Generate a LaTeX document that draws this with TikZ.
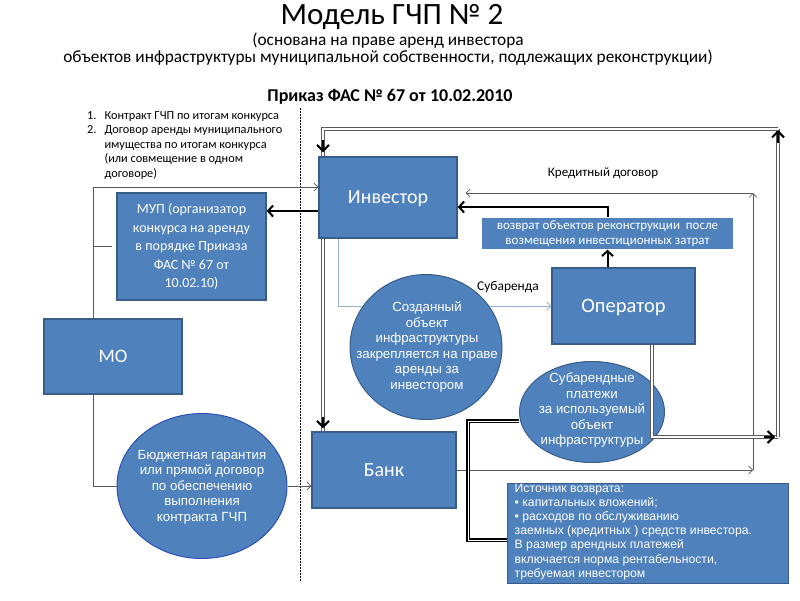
\documentclass[tikz,border=0pt]{standalone}
\usepackage{fontspec}
\setmainfont{Carlito}
\newfontfamily\arialfont{Liberation Sans}
\usetikzlibrary{arrows.meta,shapes.geometric}

\definecolor{boxblue}{HTML}{4F81BD}
\definecolor{boxedge}{HTML}{385D8A}
\definecolor{rimblue}{HTML}{3050B8}
\definecolor{subblue}{HTML}{95B3D7}
\definecolor{framegray}{HTML}{5A5A5A}

\tikzset{
  block/.style={rectangle, draw=boxedge, line width=1.4pt, fill=boxblue, text=white,
    align=center, inner sep=0pt},
  blob/.style={ellipse, draw=boxedge, line width=1pt, fill=boxblue, inner sep=0pt},
  blobtext/.style={text=white, align=center, inner sep=0pt,
    font=\arialfont\fontsize{13.3}{15.5}\selectfont},
  thinarrow/.style={draw=gray!70!black, line width=0.6pt, -{Straight Barb[length=4pt,width=8pt]}},
  thinline/.style={draw=gray!70!black, line width=0.6pt},
  boldarrow/.style={draw=black, line width=2pt, -{Straight Barb[length=5pt,width=11pt,line width=2pt]}},
  frameline/.style={draw=framegray, line width=0.9pt, double=white, double distance=1.4pt},
  frametip/.style={draw=black, line width=2pt, -{Straight Barb[length=6pt,width=12pt,line width=2pt]}},
  bracketline/.style={draw=black, line width=1.4pt, double=white, double distance=0.9pt}
}

\begin{document}
\begin{tikzpicture}[x=1pt,y=-1pt]
  \useasboundingbox[fill=white] (0,0) rectangle (800,600);

  % Headings
  \node[inner sep=0pt] (title) at (392,17) {\fontsize{31}{32}\selectfont Модель ГЧП № 2};
  \node[inner sep=0pt, align=center, font=\fontsize{17.3}{17.5}\selectfont] (subtitle) at (388,49)
    {(основана на праве аренд инвестора\\
     объектов инфраструктуры муниципальной собственности, подлежащих реконструкции)};
  \node[inner sep=0pt] (order) at (390,97) {\fontsize{18}{18}\selectfont\bfseries Приказ ФАС № 67 от 10.02.2010};

  % Contract list
  \node[anchor=north west, inner sep=0pt, font=\fontsize{12.3}{14.5}\selectfont] (list) at (87,109)
    {\begin{tabular}{@{}r@{\hspace{8pt}}l@{}}
      1. & Контракт ГЧП по итогам конкурса\\
      2. & Договор аренды муниципального\\
         & имущества по итогам конкурса\\
         & (или совмещение в одном\\
         & договоре)
     \end{tabular}};

  % Border between parties
  \draw[line width=0.6pt, dash pattern=on 1.5pt off 1.5pt] (300,108) -- (300,582);

  % Boxes
  \node[block, minimum width=138pt, minimum height=81pt, text depth=0pt, font=\fontsize{20}{20}\selectfont] (invest) at (388,197.5) {Инвестор};
  \node[block, minimum width=149pt, minimum height=107pt, font=\fontsize{14}{18.5}\selectfont] (mup) at (191.5,246.5)
    {МУП (организатор\\конкурса на аренду\\в порядке Приказа\\ФАС № 67 от\\10.02.10)};
  \node[block, minimum width=138pt, minimum height=75pt, text depth=0pt, font=\fontsize{19}{20}\selectfont] (mo) at (113,356.5) {МО};
  \node[block, minimum width=144pt, minimum height=76pt, text depth=0pt, font=\fontsize{20}{20}\selectfont] (bank) at (384,470) {Банк};
  \node[block, minimum width=143pt, minimum height=76pt, text depth=0pt, font=\fontsize{20.5}{20}\selectfont] (oper) at (623.5,306) {Оператор};
  \node[block, draw=none, minimum width=251pt, minimum height=31pt, font=\fontsize{13}{15}\selectfont] (ret) at (607.5,233.5)
    {возврат объектов реконструкции\ \ после\\возмещения инвестиционных затрат};

  % Sublease
  \draw[draw=subblue, line width=0.8pt, -{Straight Barb[length=4pt,width=8pt]}]
    ([xshift=-50pt]invest.south) |- (oper.west);
  \node[font=\fontsize{13.4}{14}\selectfont] (sublabel) at (508,287) {Субаренда};

  % Ellipses
  \node[blob, minimum width=152pt, minimum height=145pt] (obj) at (426,347) {};
  \node[blobtext] (objtext) at (427,347)
    {Созданный\\объект\\инфраструктуры\\закрепляется на праве\\аренды за\\инвестором};
  \node[blob, minimum width=170pt, minimum height=145pt, draw=rimblue] (budget) at (202,486) {};
  \node[blobtext] (budgettext) at (202,487)
    {Бюджетная гарантия\\или прямой договор\\по обеспечению\\выполнения\\контракта ГЧП};
  \node[blob, minimum width=145pt, minimum height=101pt] (subpay) at (592,412) {};
  \node[blobtext] (subpaytext) at (592,410)
    {Субарендные\\платежи\\за используемый\\объект\\инфраструктуры};

  % Credit agreement
  \coordinate (creditlow) at (753,470);
  \coordinate (credittop) at (753,193);
  \draw[thinarrow] (bank.east) -- (creditlow);
  \draw[thinarrow] (creditlow) -- (credittop);
  \draw[thinarrow, shorten >=8pt] (credittop) -- (invest.east |- credittop);
  \node[font=\fontsize{13}{14}\selectfont] (creditlabel) at (603,173) {Кредитный договор};

  % MO links
  \draw[thinarrow] ([xshift=-20pt]mo.north) |- ([yshift=10.5pt]invest.west);
  \draw[thinline] ([xshift=-20pt]mo.north |- mup.west) -- ([xshift=-4pt]mup.west);
  \draw[thinline] ([xshift=-20pt]mo.south) |- (budget.west);
  \draw[thinarrow] (budget.east) -- (bank.west |- budget.east);

  % Investor links
  \draw[boldarrow] ([yshift=-13.5pt]invest.west) -- ([yshift=-13.5pt]invest.west -| mup.east);
  \draw[boldarrow] (ret.north) |- ([yshift=-9.5pt]invest.east);
  \draw[boldarrow] (ret.south |- oper.north) -- (ret.south);

  % Outer frame
  \coordinate (framelow) at (778,437);
  \coordinate (frametop) at (778,129);
  \draw[frameline] ([xshift=-65pt]invest.south) -- ([xshift=-61pt]bank.north);
  \draw[frametip] ([xshift=-61pt,yshift=14pt]bank.north) -- ([xshift=-61pt,yshift=3pt]bank.north);
  \draw[frameline] ([xshift=28.5pt]oper.south) |- (framelow);
  \draw[frametip] ([xshift=-14pt]framelow) -- ([xshift=-3pt]framelow);
  \draw[frameline] (framelow) -- (frametop);
  \draw[frametip] ([yshift=-14pt]frametop) -- ([yshift=-1pt]frametop);
  \draw[frameline] (frametop) -| ([xshift=-65pt]invest.north);
  \draw[frametip] ([xshift=-65pt,yshift=16pt]invest.north) -- ([xshift=-65pt,yshift=4pt]invest.north);

  % Source of return
  \node[block, minimum width=281pt, minimum height=100pt, line width=1pt] (src) at (647.5,533) {};
  \node[anchor=north west, align=left, text=white, inner sep=0pt,
        font=\arialfont\fontsize{12.2}{14.2}\selectfont] (srctext) at ([xshift=8pt,yshift=-1pt]src.north west)
    {Источник возврата:\\
     \textbullet\ капитальных вложений;\\
     \textbullet\ расходов по обслуживанию\\
     заемных (кредитных ) средств инвестора.\\
     В размер арендных платежей\\
     включается норма рентабельности,\\
     требуемая инвестором};
  \coordinate (bend) at (468,0);
  \draw[bracketline] ([yshift=-9pt]subpay.west) -- ([yshift=-9pt]subpay.west -| bend)
    -- ([yshift=-7pt]src.west -| bend) -- ([yshift=-7pt]src.west);
\end{tikzpicture}
\end{document}
